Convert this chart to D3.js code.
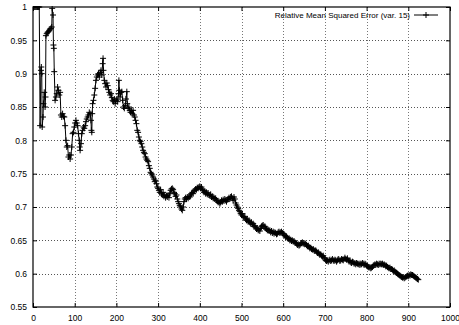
<!DOCTYPE html>
<html>
<head>
<meta charset="utf-8">
<script src="https://cdn.jsdelivr.net/npm/d3@7/dist/d3.min.js"></script>
<style>
  body { margin: 0; background: #fff; }
  svg { display: block; font-family: "Liberation Sans", Arial, sans-serif; }
</style>
</head>
<body>
<svg></svg>
<script>
// tick labels
let xTicks = [0, 100, 200, 300, 400, 500, 600, 700, 800, 900, 1000];
let yTicks = [0.55, 0.6, 0.65, 0.7, 0.75, 0.8, 0.85, 0.9, 0.95, 1];
let seriesName = "Relative Mean Squared Error (var. 15)";

// [step, error]
let earlyPart = [
  [1,1.0],[3,1.0],[5,1.0],[7,1.0],[9,1.0],[11,1.0],[13,1.0],[15,1.0],[17,0.822],[19,0.905],
  [20,0.91],[21,0.9],[22,0.82],[24,0.835],[25,0.855],[27,0.872],[29,0.85],[30,0.865],[31,0.957],
  [33,0.96],[35,0.962],[37,0.963],[39,0.965],[41,0.967],[43,0.968],[45,0.97],[46,0.998],[48,0.988],
  [49,0.943],[50,0.938],[51,0.903],[53,0.86],[55,0.865],[57,0.87],[59,0.88],[61,0.875],[63,0.868],
  [65,0.872],[67,0.838],[69,0.835],[71,0.84],[73,0.836],[75,0.835],[77,0.822],[79,0.8],[81,0.79],
  [83,0.792],[85,0.775],[87,0.778],[89,0.772],[91,0.778],[93,0.79],[95,0.81],[97,0.812]
];
let peakPart = [
  [99,0.82],[101,0.826],[103,0.83],[105,0.826],[107,0.822],[109,0.81],[111,0.8],[112,0.79],[113,0.785],
  [115,0.795],[117,0.81],[119,0.815],[121,0.82],[123,0.818],[125,0.822],[127,0.828],[129,0.832],
  [131,0.835],[133,0.838],[135,0.842],[137,0.84],[139,0.83],[140,0.815],[141,0.812],[142,0.84],
  [143,0.855],[145,0.86],[147,0.868],[149,0.878],[151,0.89],[153,0.895],[155,0.898],[157,0.9],
  [159,0.895],[161,0.902],[163,0.905],[165,0.898],[167,0.915],[168,0.923],[169,0.905],[171,0.89],
  [173,0.885],[175,0.88],[177,0.886],[179,0.882],[181,0.876],[183,0.872],[185,0.868],[187,0.87],
  [189,0.864],[191,0.86],[193,0.858],[195,0.862],[197,0.855],
  [199,0.86],[201,0.862],[203,0.858],[205,0.87],[206,0.89],[207,0.875],[209,0.865],[211,0.872],
  [213,0.873],[215,0.86],[217,0.85],[219,0.848],[221,0.852],[223,0.862],[225,0.873],[226,0.855],
  [228,0.848],[230,0.85],[232,0.845],[234,0.842],[236,0.845],[238,0.84],[240,0.845],[242,0.838],
  [244,0.835],[246,0.83],[248,0.825],[250,0.815],[252,0.812],[254,0.805],[256,0.8],[258,0.798],
  [260,0.795],[262,0.79],[264,0.785],[266,0.782],[268,0.78],[270,0.775],[272,0.772],[274,0.77],
  [276,0.768],[278,0.762],[280,0.758],[282,0.752],[284,0.75],[286,0.748],[288,0.745],[290,0.742],
  [292,0.738],[294,0.74],[296,0.735],[298,0.73],[300,0.728]
];
let middlePart = [
  [302,0.725],[304,0.722],[306,0.726],[308,0.72],[310,0.718],[312,0.722],[314,0.716],[316,0.718],
  [318,0.714],[320,0.717],[322,0.715],[324,0.718],[326,0.714],[328,0.72],[330,0.725],[332,0.727],
  [334,0.728],[336,0.726],[338,0.722],[340,0.72],[342,0.716],[344,0.718],[346,0.712],[348,0.708],
  [350,0.705],[352,0.702],[354,0.7],[356,0.697],[358,0.695],[360,0.7],[362,0.708],[364,0.712],
  [366,0.714],[368,0.712],[370,0.715],[372,0.713],[374,0.716],[376,0.715],[378,0.718],[380,0.72],
  [382,0.722],[384,0.72],[386,0.724],[388,0.725],[390,0.727],[392,0.726],[394,0.729],[396,0.728],
  [398,0.73],[400,0.731],[402,0.728],[404,0.73],[406,0.726],[408,0.725],[410,0.722],[412,0.724],
  [414,0.72],[416,0.722],[418,0.719],[420,0.721],[422,0.718],[424,0.717],[426,0.719],[428,0.715],
  [430,0.716],[432,0.713],[434,0.714],[436,0.712],[438,0.713],[440,0.71],[442,0.709],[444,0.707],
  [446,0.708],[448,0.705],[450,0.707],[452,0.71],[454,0.708],[456,0.711],[458,0.709],[460,0.712],
  [462,0.71],[464,0.708],[466,0.711],[468,0.712],[470,0.714],[472,0.712],[474,0.715],[476,0.716],
  [478,0.713],[480,0.71],
  [482,0.715],[484,0.712],[486,0.706],[488,0.703],[490,0.7],[492,0.698],[494,0.695],[496,0.693],
  [498,0.69],[500,0.688],[502,0.69],[504,0.686],[506,0.684],[508,0.686],[510,0.682],[512,0.68],
  [514,0.682],[516,0.678],[518,0.68],[520,0.677],[522,0.675],[524,0.677],[526,0.674],[528,0.675],
  [530,0.671],[532,0.672],[534,0.669],[536,0.667],[538,0.668],[540,0.665],[542,0.666],[544,0.664],
  [546,0.668],[548,0.671],[550,0.672],[552,0.673],[554,0.67],[556,0.671],[558,0.668],[560,0.667],
  [562,0.665],[564,0.666],[566,0.664],[568,0.665],[570,0.662],[572,0.664],[574,0.661],[576,0.663],
  [578,0.66],[580,0.662],[582,0.661],[584,0.659],[586,0.66],[588,0.662],[590,0.663],[592,0.661],
  [594,0.662],[596,0.663],[598,0.661],[600,0.66]
];
let latePart = [
  [602,0.658],[604,0.657],[606,0.655],[608,0.656],[610,0.654],[612,0.652],[614,0.653],[616,0.65],
  [618,0.651],[620,0.649],[622,0.65],[624,0.648],[626,0.649],[628,0.647],[630,0.646],[632,0.645],
  [634,0.643],[636,0.644],[638,0.642],[640,0.643],[642,0.645],[644,0.646],[646,0.647],[648,0.645],
  [650,0.646],[652,0.644],[654,0.645],[656,0.643],[658,0.641],[660,0.642],[662,0.64],[664,0.638],
  [666,0.639],[668,0.637],[670,0.636],[672,0.637],[674,0.635],[676,0.634],[678,0.635],[680,0.633],
  [682,0.631],[684,0.632],[686,0.63],[688,0.628],[690,0.629],[692,0.627],[694,0.626],[696,0.627],
  [698,0.624],[700,0.622],
  [702,0.62],[704,0.619],[706,0.62],[708,0.618],[710,0.62],[712,0.621],[714,0.619],[716,0.62],
  [718,0.622],[720,0.62],[722,0.619],[724,0.621],[726,0.62],[728,0.618],[730,0.62],[732,0.622],
  [734,0.621],[736,0.619],[738,0.62],[740,0.622],[742,0.621],[744,0.62],[746,0.622],[748,0.624],
  [750,0.622],[752,0.621],[754,0.623],[756,0.62],[758,0.618],[760,0.62],[762,0.617],[764,0.616],
  [766,0.618],[768,0.617],[770,0.615],[772,0.616],[774,0.614],[776,0.616],[778,0.615],[780,0.614],
  [782,0.615],[784,0.613],[786,0.615],[788,0.614],[790,0.616],[792,0.615],[794,0.613],[796,0.615],
  [798,0.614],[800,0.612],[802,0.611],[804,0.61],[806,0.609],[808,0.61],[810,0.608],[812,0.609],
  [814,0.61],[816,0.612],[818,0.613],[820,0.614],[822,0.613],[824,0.615],[826,0.614],[828,0.613],
  [830,0.615],[832,0.614],[834,0.615],[836,0.614],[838,0.615],[840,0.613],[842,0.614],[844,0.613],
  [846,0.611],[848,0.612],[850,0.61],[852,0.609],[854,0.608],[856,0.609],[858,0.607],[860,0.607],
  [862,0.606],[864,0.604],[866,0.605],[868,0.603],[870,0.602],[872,0.601],[874,0.6],[876,0.599],
  [878,0.598],[880,0.597],[882,0.596],[884,0.595],[886,0.594],[888,0.595],[890,0.593],[892,0.594],
  [894,0.595],[896,0.596],[898,0.597],[900,0.596],[902,0.598],[904,0.597],[906,0.599],[908,0.598],
  [910,0.598],[912,0.597],[914,0.596],[916,0.595],[918,0.594],[920,0.593],[922,0.592],[924,0.591]
];
let data = earlyPart.concat(peakPart, middlePart, latePart);

let width = 459, height = 325;
let margin = { left: 33, right: 9, top: 7, bottom: 18 };

let svg = d3.select("svg")
  .attr("width", width)
  .attr("height", height);

let x = d3.scaleLinear().domain([0, 1000]).range([margin.left, width - margin.right]);
let y = d3.scaleLinear().domain([0.55, 1]).range([height - margin.bottom, margin.top]);

svg.append("clipPath").attr("id", "plot")
  .append("rect")
  .attr("x", x(0)).attr("y", y(1) - 1)
  .attr("width", x(1000) - x(0)).attr("height", y(0.55) - y(1) + 1);

// grid
let grid = svg.append("g").attr("fill", "none");
grid.selectAll("line.gx")
  .data(xTicks.slice(1, -1))
  .enter().append("line")
  .attr("x1", d => Math.round(x(d)) + 0.5).attr("x2", d => Math.round(x(d)) + 0.5)
  .attr("y1", y(1)).attr("y2", y(0.55))
  .attr("stroke", "#777").attr("stroke-width", 1).attr("stroke-dasharray", "1,2");
grid.selectAll("line.gy")
  .data(yTicks.slice(1, -1))
  .enter().append("line")
  .attr("y1", d => Math.round(y(d)) + 0.5).attr("y2", d => Math.round(y(d)) + 0.5)
  .attr("x1", x(0)).attr("x2", x(1000))
  .attr("stroke", "#555").attr("stroke-width", 1).attr("stroke-dasharray", "1,2");

// axes with inward ticks, mirrored
let fmt = d3.format("");
let xAxis = svg.append("g")
  .attr("transform", `translate(0,${y(0.55)})`)
  .call(d3.axisBottom(x).tickValues(xTicks).tickSize(-4).tickPadding(8).tickFormat(fmt));
let xTop = svg.append("g")
  .attr("transform", `translate(0,${y(1)})`)
  .call(d3.axisTop(x).tickValues(xTicks).tickSize(-4).tickFormat(""));
let yAxis = svg.append("g")
  .attr("transform", `translate(${x(0)},0)`)
  .call(d3.axisLeft(y).tickValues(yTicks).tickSize(-4).tickPadding(6).tickFormat(fmt));
let yRight = svg.append("g")
  .attr("transform", `translate(${x(1000)},0)`)
  .call(d3.axisRight(y).tickValues(yTicks).tickSize(-4).tickFormat(""));

[xAxis, xTop, yAxis, yRight].forEach(g => {
  g.select(".domain").remove();
  g.selectAll("line").attr("stroke", "#000");
  g.selectAll("text").attr("font-size", "8.5px").attr("fill", "#000")
    .attr("font-family", "'Liberation Sans', Arial, sans-serif");
});

// border
svg.append("rect")
  .attr("x", x(0)).attr("y", y(1))
  .attr("width", x(1000) - x(0)).attr("height", y(0.55) - y(1))
  .attr("fill", "none").attr("stroke", "#000").attr("stroke-width", 1.2);

// series
let plot = svg.append("g").attr("clip-path", "url(#plot)");
let line = d3.line().x(d => x(d[0])).y(d => y(d[1]));
plot.append("path")
  .datum(data)
  .attr("d", line)
  .attr("fill", "none").attr("stroke", "#000").attr("stroke-width", 1);

let s = 3;
plot.append("g").selectAll("path")
  .data(data)
  .enter().append("path")
  .attr("d", d => {
    let px = x(d[0]), py = y(d[1]);
    return `M${px - s},${py}H${px + s}M${px},${py - s}V${py + s}`;
  })
  .attr("stroke", "#000").attr("stroke-width", 1);

// legend
let legend = svg.append("g").attr("transform", `translate(${x(1000)},${y(1)})`);
legend.append("text")
  .attr("x", -40).attr("y", 11)
  .attr("text-anchor", "end")
  .attr("font-size", "8px")
  .text(seriesName);
legend.append("line")
  .attr("x1", -36).attr("x2", -12).attr("y1", 8).attr("y2", 8)
  .attr("stroke", "#000");
legend.append("path")
  .attr("d", `M${-24 - s},8H${-24 + s}M-24,${8 - s}V${8 + s}`)
  .attr("stroke", "#000");
</script>
</body>
</html>
